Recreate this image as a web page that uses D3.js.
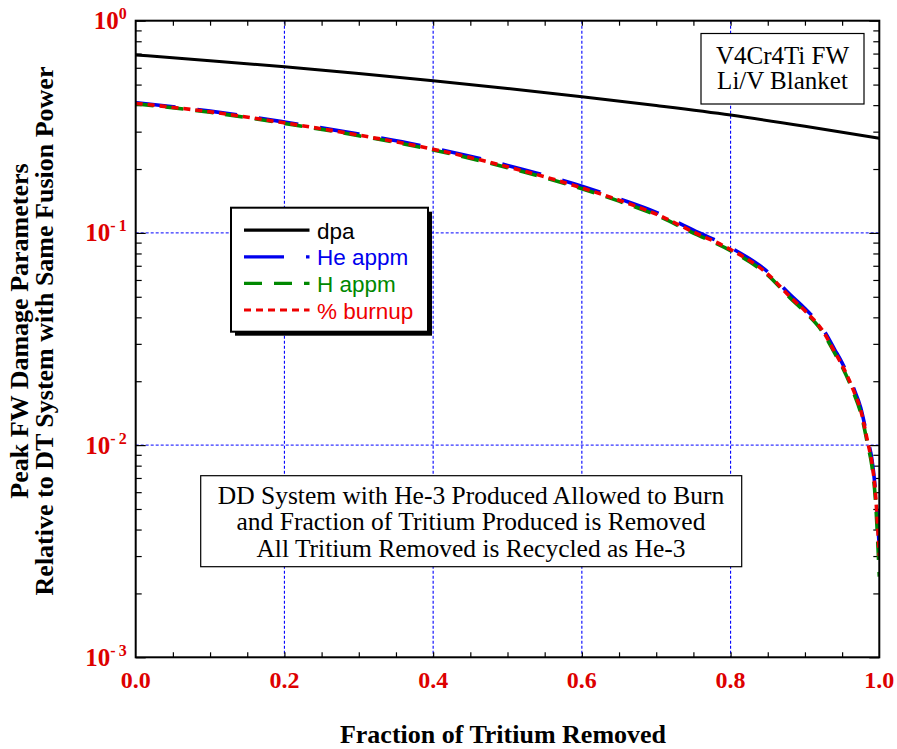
<!DOCTYPE html>
<html>
<head>
<meta charset="utf-8">
<script src="https://d3js.org/d3.v7.min.js"></script>
<style>
  body { margin: 0; background: #fff; }
  svg { display: block; }
</style>
</head>
<body>
<div id="chart-area"></div>
<script>
// fraction of tritium removed (x) and the curves
var fraction = [0, 0.1, 0.2, 0.3, 0.4, 0.5, 0.6, 0.65, 0.7, 0.75, 0.8, 0.85, 0.88, 0.9,
                0.925, 0.94, 0.95, 0.965, 0.975, 0.985, 0.99, 0.995, 1.0];
var heAppm = [0.411, 0.375, 0.333, 0.292, 0.251, 0.208, 0.166, 0.145, 0.125, 0.103, 0.0852, 0.0655, 0.0512, 0.0440,
              0.0349, 0.0282, 0.0244, 0.0187, 0.0150, 0.0104, 0.0086, 0.0060, 0.0033];
var hAppm  = [0.406, 0.370, 0.328, 0.287, 0.246, 0.203, 0.1615, 0.1412, 0.1212, 0.0998, 0.0825, 0.0632, 0.0494, 0.0424,
              0.0336, 0.0271, 0.0234, 0.0178, 0.0142, 0.0098, 0.0080, 0.0054, 0.0024];
var burnup = [0.408, 0.372, 0.330, 0.289, 0.248, 0.205, 0.163, 0.1426, 0.1225, 0.101, 0.0835, 0.0640, 0.0500, 0.0430,
              0.0341, 0.0275, 0.0238, 0.0182, 0.0146, 0.0101, 0.0083, 0.0058, 0.0030];

var dpaFraction = [0, 0.1, 0.2, 0.3, 0.4, 0.5, 0.6, 0.7, 0.8, 0.9, 1.0];
var dpa = [0.690, 0.648, 0.607, 0.564, 0.521, 0.479, 0.438, 0.398, 0.359, 0.318, 0.279];

var xTicks = [0, 0.2, 0.4, 0.6, 0.8, 1.0];
var xTickLabels = ["0.0", "0.2", "0.4", "0.6", "0.8", "1.0"];
var yDecades = [1, 0.1, 0.01, 0.001];
var yTickExps = ["0", "-\u20091", "-\u20092", "-\u20093"];

var seriesNames = ["dpa", "He appm", "H appm", "% burnup"];
var seriesColors = ["#000000", "#0000ee", "#008800", "#ee0000"];
var seriesDash = [null, "40,22", "18,12", "7,5"];

var serif = "'Liberation Serif', 'Times New Roman', Times, serif";
var sans = "'Liberation Sans', Arial, Helvetica, sans-serif";
var red = "#dd0000";

var W = 897, H = 749;
var margin = { left: 135.7, right: 897 - 879.3, top: 20.7, bottom: 749 - 657.3 };
var width = W - margin.left - margin.right,
    height = H - margin.top - margin.bottom;

var svg = d3.select("#chart-area")
    .append("svg")
        .attr("width", W)
        .attr("height", H);

var g = svg.append("g")
    .attr("transform", "translate(" + margin.left + "," + margin.top + ")");

// scales
var x = d3.scaleLinear().domain([0, 1]).range([0, width]);
var y = d3.scaleLog().domain([0.001, 1]).range([height, 0]);

g.append("clipPath").attr("id", "clip")
    .append("rect").attr("width", width).attr("height", height);

// grid lines
g.selectAll(".vgrid")
    .data(xTicks.slice(1, -1))
    .enter().append("line")
        .attr("x1", function(d){ return x(d); })
        .attr("x2", function(d){ return x(d); })
        .attr("y1", 0).attr("y2", height)
        .attr("stroke", "#0000ff")
        .attr("stroke-width", 1.1)
        .attr("stroke-dasharray", "3,2");

g.selectAll(".hgrid")
    .data(yDecades.slice(1, -1))
    .enter().append("line")
        .attr("y1", function(d){ return y(d); })
        .attr("y2", function(d){ return y(d); })
        .attr("x1", 0).attr("x2", width)
        .attr("stroke", "#0000ff")
        .attr("stroke-width", 1)
        .attr("stroke-dasharray", "3,2");

// minor ticks (inward) on all four sides
var minorY = y.ticks().filter(function(d){ return yDecades.indexOf(d) < 0; });
var minorX = d3.range(1, 20).map(function(i){ return i / 20; });

function tickAxis(axis, tr) {
    var a = g.append("g").attr("transform", tr || null).call(axis);
    a.select(".domain").remove();
    a.selectAll("text").remove();
    a.selectAll("line").attr("stroke", "#000").attr("stroke-width", 1.2);
}
tickAxis(d3.axisLeft(y).tickValues(minorY).tickSize(-6).tickFormat(""));
tickAxis(d3.axisRight(y).tickValues(minorY).tickSize(-6).tickFormat(""), "translate(" + width + ",0)");
tickAxis(d3.axisLeft(y).tickValues(yDecades).tickSize(-10).tickFormat(""));
tickAxis(d3.axisRight(y).tickValues(yDecades).tickSize(-10).tickFormat(""), "translate(" + width + ",0)");
tickAxis(d3.axisBottom(x).tickValues(minorX).tickSize(-5).tickFormat(""), "translate(0," + height + ")");
tickAxis(d3.axisTop(x).tickValues(minorX).tickSize(-5).tickFormat(""));

// curves
var line = d3.line()
    .x(function(d){ return x(d[0]); })
    .y(function(d){ return y(d[1]); })
    .curve(d3.curveMonotoneX);

var curves = g.append("g").attr("clip-path", "url(#clip)");
var dashed = [heAppm, hAppm, burnup];
dashed.forEach(function(vals, i) {
    curves.append("path")
        .datum(d3.zip(fraction, vals))
        .attr("d", line)
        .attr("fill", "none")
        .attr("stroke", seriesColors[i + 1])
        .attr("stroke-width", 3.6)
        .attr("stroke-dasharray", seriesDash[i + 1]);
});
curves.append("path")
    .datum(d3.zip(dpaFraction, dpa))
    .attr("d", line)
    .attr("fill", "none")
    .attr("stroke", "#000")
    .attr("stroke-width", 3);

// frame
g.append("rect")
    .attr("width", width).attr("height", height)
    .attr("fill", "none")
    .attr("stroke", "#000")
    .attr("stroke-width", 2);

// x tick labels
g.selectAll(".xlab")
    .data(xTicks)
    .enter().append("text")
        .attr("x", function(d){ return x(d); })
        .attr("y", height + 30.5)
        .attr("text-anchor", "middle")
        .attr("font-family", serif)
        .attr("font-weight", "bold")
        .attr("font-size", "24px")
        .attr("fill", red)
        .text(function(d, i){ return xTickLabels[i]; });

// y tick labels: 10^n
var ylab = g.selectAll(".ylab")
    .data(yDecades)
    .enter().append("text")
        .attr("x", -9)
        .attr("y", function(d){ return y(d) + 8.5; })
        .attr("text-anchor", "end")
        .attr("font-family", serif)
        .attr("font-weight", "bold")
        .attr("font-size", "25px")
        .attr("fill", red);
ylab.append("tspan").text("10");
ylab.append("tspan")
    .attr("dy", -10)
    .attr("font-size", "16px")
    .text(function(d, i){ return yTickExps[i]; });

// axis titles
svg.append("text")
    .attr("x", 503)
    .attr("y", 743)
    .attr("text-anchor", "middle")
    .attr("font-family", serif)
    .attr("font-weight", "bold")
    .attr("font-size", "26px")
    .text("Fraction of Tritium Removed");

var yTitle = svg.append("text")
    .attr("transform", "translate(28,331) rotate(-90)")
    .attr("text-anchor", "middle")
    .attr("font-family", serif)
    .attr("font-weight", "bold")
    .attr("font-size", "26px");
yTitle.append("tspan").attr("x", 0).attr("y", 0).text("Peak FW Damage Parameters");
yTitle.append("tspan").attr("x", 0).attr("y", 24.5).text("Relative to DT System with Same Fusion Power");

// material box (top right)
svg.append("rect")
    .attr("x", 701).attr("y", 33.5)
    .attr("width", 163).attr("height", 70.5)
    .attr("fill", "#fff")
    .attr("stroke", "#000")
    .attr("stroke-width", 1.2);
var mat = svg.append("text")
    .attr("text-anchor", "middle")
    .attr("font-family", serif)
    .attr("font-size", "25px");
mat.append("tspan").attr("x", 782.5).attr("y", 63.5).text("V4Cr4Ti FW");
mat.append("tspan").attr("x", 782.5).attr("y", 88.5).text("Li/V Blanket");

// note box
svg.append("rect")
    .attr("x", 200.7).attr("y", 475.7)
    .attr("width", 541).attr("height", 91)
    .attr("fill", "#fff")
    .attr("stroke", "#000")
    .attr("stroke-width", 1.2);
var note = svg.append("text")
    .attr("text-anchor", "middle")
    .attr("font-family", serif)
    .attr("font-size", "25.5px");
note.append("tspan").attr("x", 471).attr("y", 503.5).text("DD System with He-3 Produced Allowed to Burn");
note.append("tspan").attr("x", 471).attr("y", 530).text("and Fraction of Tritium Produced is Removed");
note.append("tspan").attr("x", 471).attr("y", 556.5).text("All Tritium Removed is Recycled as He-3");

// legend
var legend = svg.append("g").attr("transform", "translate(231,207.7)");
legend.append("rect")
    .attr("x", 4).attr("y", 4)
    .attr("width", 197).attr("height", 124)
    .attr("fill", "#000");
legend.append("rect")
    .attr("width", 197).attr("height", 124)
    .attr("fill", "#fff")
    .attr("stroke", "#000")
    .attr("stroke-width", 2);

var rows = legend.selectAll(".row")
    .data(seriesNames)
    .enter().append("g")
        .attr("transform", function(d, i){ return "translate(0," + (22.5 + i * 26.6) + ")"; });
rows.append("line")
    .attr("x1", 13).attr("x2", 78.5)
    .attr("stroke", function(d, i){ return seriesColors[i]; })
    .attr("stroke-width", 3.2)
    .attr("stroke-dasharray", function(d, i){ return seriesDash[i]; });
rows.append("text")
    .attr("x", 86)
    .attr("y", 8.5)
    .attr("font-family", sans)
    .attr("font-size", "22.5px")
    .attr("fill", function(d, i){ return seriesColors[i]; })
    .text(function(d){ return d; });
</script>
</body>
</html>
